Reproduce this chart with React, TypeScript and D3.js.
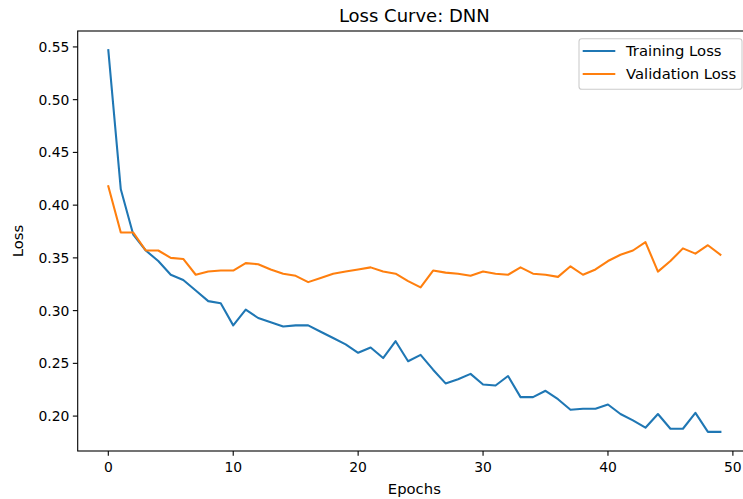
import React from "react";
import * as d3 from "d3";

const epochs: number[] = Array.from({ length: 50 }, (_, i) => i);

const trainingLoss: number[] = [
  0.547, 0.415, 0.372, 0.357, 0.347, 0.334, 0.329, 0.319, 0.309, 0.307,
  0.286, 0.301, 0.293, 0.289, 0.285, 0.286, 0.286, 0.280, 0.274, 0.268,
  0.260, 0.265, 0.255, 0.271, 0.252, 0.258, 0.244, 0.231, 0.235, 0.240,
  0.230, 0.229, 0.238, 0.218, 0.218, 0.224, 0.216, 0.206, 0.207, 0.207,
  0.211, 0.202, 0.196, 0.189, 0.202, 0.188, 0.188, 0.203, 0.185, 0.185,
];

const validationLoss: number[] = [
  0.418, 0.374, 0.374, 0.357, 0.357, 0.350, 0.349, 0.334, 0.337, 0.338,
  0.338, 0.345, 0.344, 0.339, 0.335, 0.333, 0.327, 0.331, 0.335, 0.337,
  0.339, 0.341, 0.337, 0.335, 0.328, 0.322, 0.338, 0.336, 0.335, 0.333,
  0.337, 0.335, 0.334, 0.341, 0.335, 0.334, 0.332, 0.342, 0.334, 0.339,
  0.347, 0.353, 0.357, 0.365, 0.337, 0.347, 0.359, 0.354, 0.362, 0.353,
];

const xTicks: number[] = [0, 10, 20, 30, 40, 50];
const yTicks: number[] = [0.2, 0.25, 0.3, 0.35, 0.4, 0.45, 0.5, 0.55];

const seriesNames = ["Training Loss", "Validation Loss"];
const seriesColors = ["#1f77b4", "#ff7f0e"];

export default function App() {
  const W = 743;
  const H = 499;
  const left = 77.7;
  const right = 751;
  const top = 31;
  const bottom = 451;
  const font = "DejaVu Sans, sans-serif";
  const fs = 13.9;
  const legFs = 14.8;

  const xMin = 0, xMax = 49;
  const xm = (xMax - xMin) * 0.05;
  const x = d3.scaleLinear().domain([xMin - xm, xMax + xm]).range([left, right]);

  const all = trainingLoss.concat(validationLoss);
  const yLo = d3.min(all) as number;
  const yHi = d3.max(all) as number;
  const ym = (yHi - yLo) * 0.05;
  const y = d3.scaleLinear().domain([yLo - ym, yHi + ym]).range([bottom, top]);

  const line = d3
    .line<number>()
    .x((_, i) => x(epochs[i]))
    .y((d) => y(d));

  const series = [trainingLoss, validationLoss];

  const legX = 579;
  const legY = 38.7;
  const legW = 163;
  const legH = 50.5;

  return (
    <svg
      width={W}
      height={H}
      style={{ position: "absolute", left: 0, top: 0, background: "#fff" }}
      fontFamily={font}
    >
      <rect x={0} y={0} width={W} height={H} fill="#fff" />
      <defs>
        <clipPath id="plot">
          <rect x={left} y={top} width={right - left} height={bottom - top} />
        </clipPath>
      </defs>
      <g clipPath="url(#plot)">
        {series.map((s, k) => (
          <path
            key={k}
            d={line(s) || ""}
            fill="none"
            stroke={seriesColors[k]}
            strokeWidth={2.08}
            strokeLinejoin="round"
            strokeLinecap="square"
          />
        ))}
      </g>
      {/* spines */}
      <rect
        x={left}
        y={top}
        width={right - left}
        height={bottom - top}
        fill="none"
        stroke="#000"
        strokeWidth={1.1}
      />
      {/* x ticks */}
      {xTicks.map((t) => (
        <g key={"x" + t}>
          <line x1={x(t)} x2={x(t)} y1={bottom} y2={bottom + 4.86} stroke="#000" strokeWidth={1.1} />
          <text x={x(t)} y={bottom + 21} textAnchor="middle" fontSize={fs} fill="#000">
            {t}
          </text>
        </g>
      ))}
      {/* y ticks */}
      {yTicks.map((t) => (
        <g key={"y" + t}>
          <line x1={left - 4.86} x2={left} y1={y(t)} y2={y(t)} stroke="#000" strokeWidth={1.1} />
          <text x={left - 8.3} y={y(t) + 5} textAnchor="end" fontSize={fs} fill="#000">
            {t.toFixed(2)}
          </text>
        </g>
      ))}
      {/* axis labels */}
      <text x={(left + right) / 2} y={494} textAnchor="middle" fontSize={legFs} fill="#000">
        Epochs
      </text>
      <text
        transform={`translate(22.5, ${(top + bottom) / 2}) rotate(-90)`}
        textAnchor="middle"
        fontSize={legFs}
        fill="#000"
      >
        Loss
      </text>
      {/* title */}
      <text x={(left + right) / 2} y={21.5} textAnchor="middle" fontSize={18} fill="#000">
        Loss Curve: DNN
      </text>
      {/* legend */}
      <rect
        x={legX}
        y={legY}
        width={legW}
        height={legH}
        rx={2.8}
        fill="#fff"
        fillOpacity={0.8}
        stroke="#cccccc"
        strokeWidth={1.1}
      />
      {seriesNames.map((name, k) => (
        <g key={name}>
          <line
            x1={legX + 3.7}
            x2={legX + 36.3}
            y1={legY + 12.3 + k * 23}
            y2={legY + 12.3 + k * 23}
            stroke={seriesColors[k]}
            strokeWidth={2.08}
          />
          <text x={legX + 47} y={legY + 17.2 + k * 22.8} fontSize={legFs} fill="#000">
            {name}
          </text>
        </g>
      ))}
    </svg>
  );
}
